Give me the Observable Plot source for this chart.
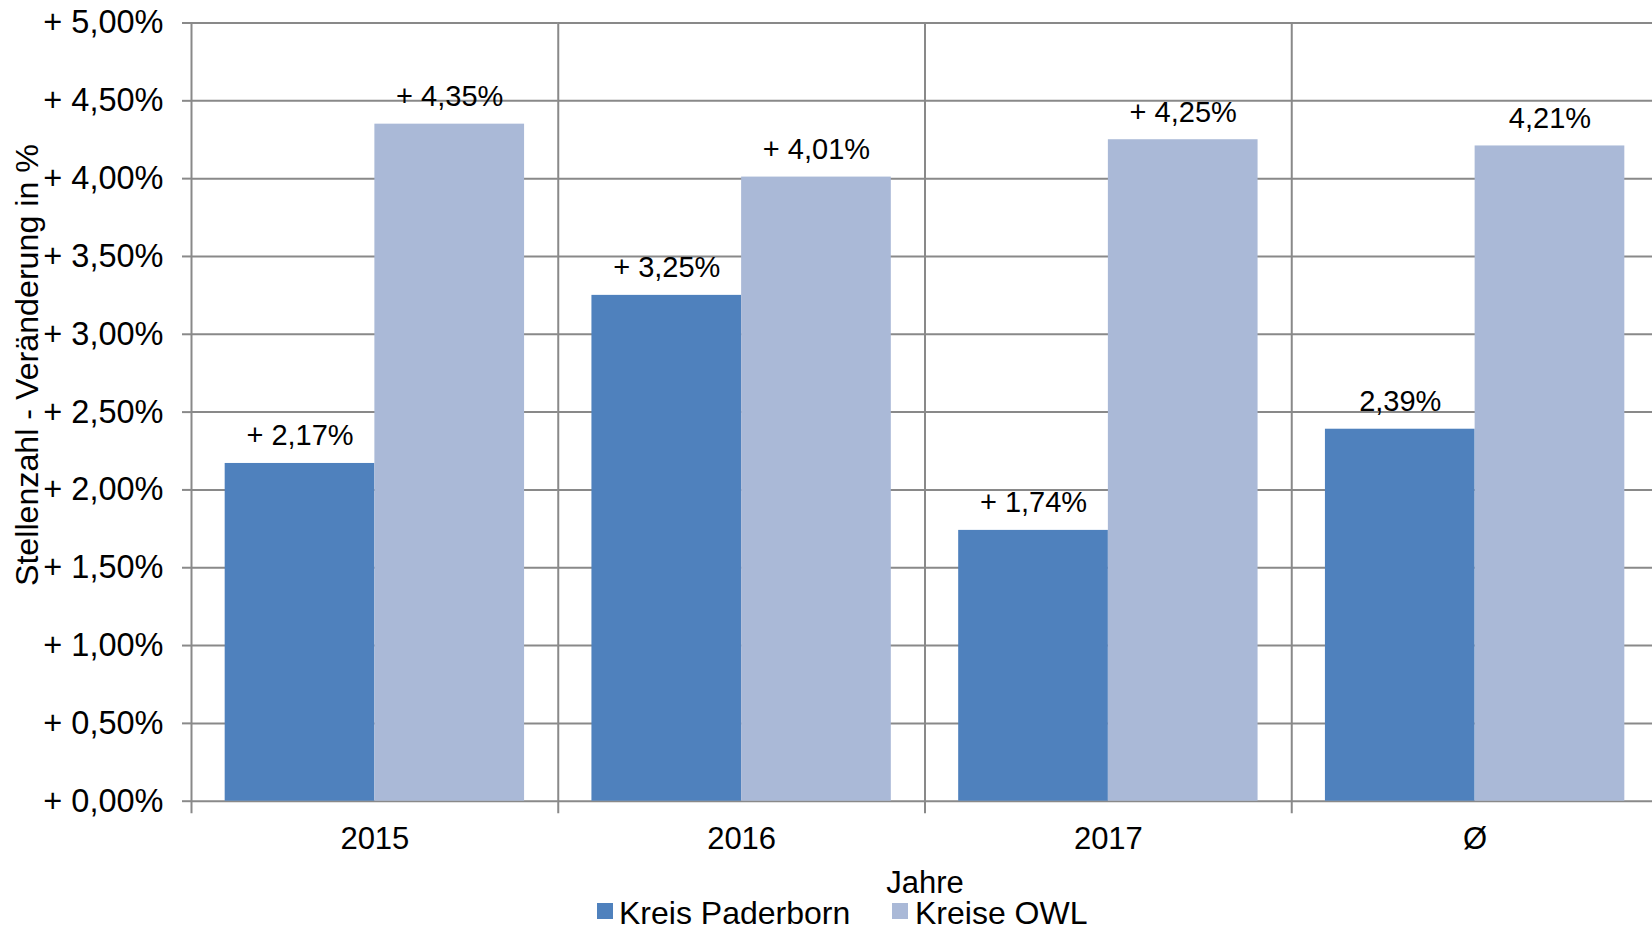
<!DOCTYPE html>
<html><head><meta charset="utf-8">
<script src="https://cdn.jsdelivr.net/npm/d3@7"></script>
<script src="https://cdn.jsdelivr.net/npm/@observablehq/plot@0.6"></script>
<style>
html,body{margin:0;padding:0;background:#fff;overflow:hidden;width:1652px;height:926px}
#chart svg{display:block;max-width:none !important}
#legend{position:relative;height:26px;font-family:"Liberation Sans",Arial,sans-serif;font-size:32px;line-height:32px;color:#000}
#legend .sw{position:absolute;width:16px;height:16px}
#legend .lb{position:absolute;white-space:nowrap}
</style></head><body>
<div id="chart"></div>
<div id="legend"></div>
<script>
const categories = ["2015", "2016", "2017", "Ø"];
const series = ["Kreis Paderborn", "Kreise OWL"];
const paderborn = [2.17, 3.25, 1.74, 2.39];
const owl = [4.35, 4.01, 4.25, 4.21];
const paderbornLabels = ["+ 2,17%", "+ 3,25%", "+ 1,74%", "2,39%"];
const owlLabels = ["+ 4,35%", "+ 4,01%", "+ 4,25%", "4,21%"];
const yTicks = [0, 0.5, 1, 1.5, 2, 2.5, 3, 3.5, 4, 4.5, 5];
const colors = ["#4F81BD", "#AAB9D7"];
const yTitle = "Stellenzahl - Veränderung in %";
const xTitle = "Jahre";

const data = categories.flatMap((c, i) => [
  {cat: c, series: series[0], value: paderborn[i], label: paderbornLabels[i]},
  {cat: c, series: series[1], value: owl[i], label: owlLabels[i]}
]);
const fmt = d => "+ " + d.toFixed(2).replace(".", ",") + "%";
const gray = "#898989";

const chart = Plot.plot({
  width: 1658, height: 900,
  marginLeft: 191, marginRight: 0, marginTop: 22.5, marginBottom: 99.3,
  style: {fontFamily: "'Liberation Sans', Arial, sans-serif", fontSize: "31px", color: "#000", background: "#fff", overflow: "visible", maxWidth: "none"},
  fx: {domain: categories, padding: 0, round: false, label: null},
  x: {domain: series, paddingInner: 0, paddingOuter: 0.225, round: false, axis: null},
  y: {domain: [0, 5], axis: null},
  color: {domain: series, range: colors},
  marks: [
    Plot.gridY(yTicks, {stroke: gray, strokeOpacity: 1, strokeWidth: 2}),
    Plot.frame({anchor: "left", stroke: gray, strokeOpacity: 1, strokeWidth: 2, insetBottom: -11}),
    Plot.barY(data, {fx: "cat", x: "series", y: "value", fill: "series"}),
    Plot.text(data, {fx: "cat", x: "series", y: "value", text: "label", lineAnchor: "bottom", dy: -18, fontSize: 29}),
    Plot.axisY({ticks: yTicks, tickFormat: fmt, tickSize: 9, tickPadding: 19, fontSize: 32.5, stroke: gray, strokeWidth: 2, strokeOpacity: 1, label: null}),
    Plot.axisFx({anchor: "bottom", tickSize: 0, tickPadding: 26, label: xTitle, labelAnchor: "center", labelOffset: 92}),
    Plot.text([yTitle], {fx: () => categories[0], text: d => d, frameAnchor: "left", textAnchor: "middle", rotate: -90, dx: -154, dy: -47, lineAnchor: "bottom", fontSize: 32.2})
  ]
});
document.getElementById("chart").appendChild(chart);

const legend = document.getElementById("legend");
const swX = [597, 892];
const lbX = [619, 915];
series.forEach((s, i) => {
  const sw = document.createElement("div");
  sw.className = "sw"; sw.style.left = swX[i] + "px"; sw.style.top = "3px"; sw.style.background = colors[i];
  const lb = document.createElement("div");
  lb.className = "lb"; lb.style.left = lbX[i] + "px"; lb.style.top = "-3px"; lb.textContent = s;
  legend.appendChild(sw); legend.appendChild(lb);
});
</script>
</body></html>
